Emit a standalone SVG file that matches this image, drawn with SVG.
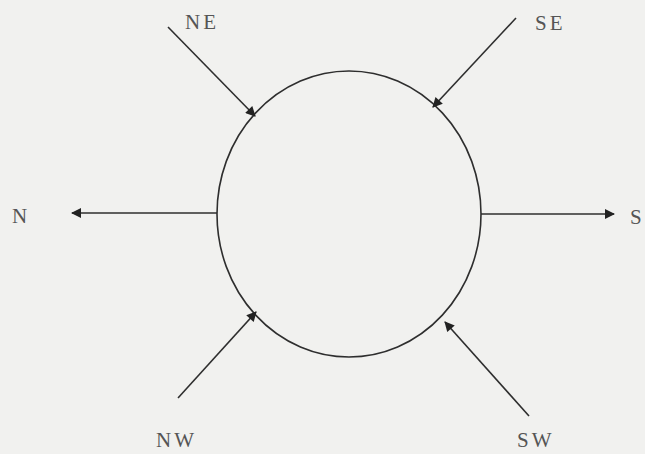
<svg xmlns="http://www.w3.org/2000/svg" width="645" height="454" viewBox="0 0 645 454">
<style>
.bg{fill:#f1f1ef}
.ln{stroke:#2e2e2e;stroke-width:1.6;fill:none}
.lbl{font-family:"Liberation Serif","DejaVu Serif",serif;font-size:21px;fill:#555;letter-spacing:3px}
</style>
<defs>
<marker id="ah" viewBox="0 0 10 10" refX="9" refY="5" markerWidth="11" markerHeight="10" markerUnits="userSpaceOnUse" orient="auto">
<path d="M0,0 L10,5 L0,10 Z" fill="#222"/>
</marker>
</defs>
<rect class="bg" width="645" height="454"/>
<g id="center">
<ellipse class="ln" cx="349" cy="214" rx="132" ry="143"/>
</g>
<g id="connectors">
<line class="ln" x1="168" y1="27" x2="255" y2="116" marker-end="url(#ah)"/>
<line class="ln" x1="516" y1="18" x2="433" y2="107" marker-end="url(#ah)"/>
<line class="ln" x1="217" y1="213" x2="72" y2="213" marker-end="url(#ah)"/>
<line class="ln" x1="481" y1="214" x2="614" y2="214" marker-end="url(#ah)"/>
<line class="ln" x1="178" y1="398" x2="256" y2="312" marker-end="url(#ah)"/>
<line class="ln" x1="529" y1="416" x2="445" y2="322" marker-end="url(#ah)"/>
</g>
<g id="NE"><text class="lbl" x="185" y="29">NE</text></g>
<g id="SE"><text class="lbl" x="535" y="30">SE</text></g>
<g id="N"><text class="lbl" x="12" y="223">N</text></g>
<g id="S"><text class="lbl" x="630" y="224" letter-spacing="0">S</text></g>
<g id="NW"><text class="lbl" x="156" y="447">NW</text></g>
<g id="SW"><text class="lbl" x="517" y="447">SW</text></g>
</svg>
